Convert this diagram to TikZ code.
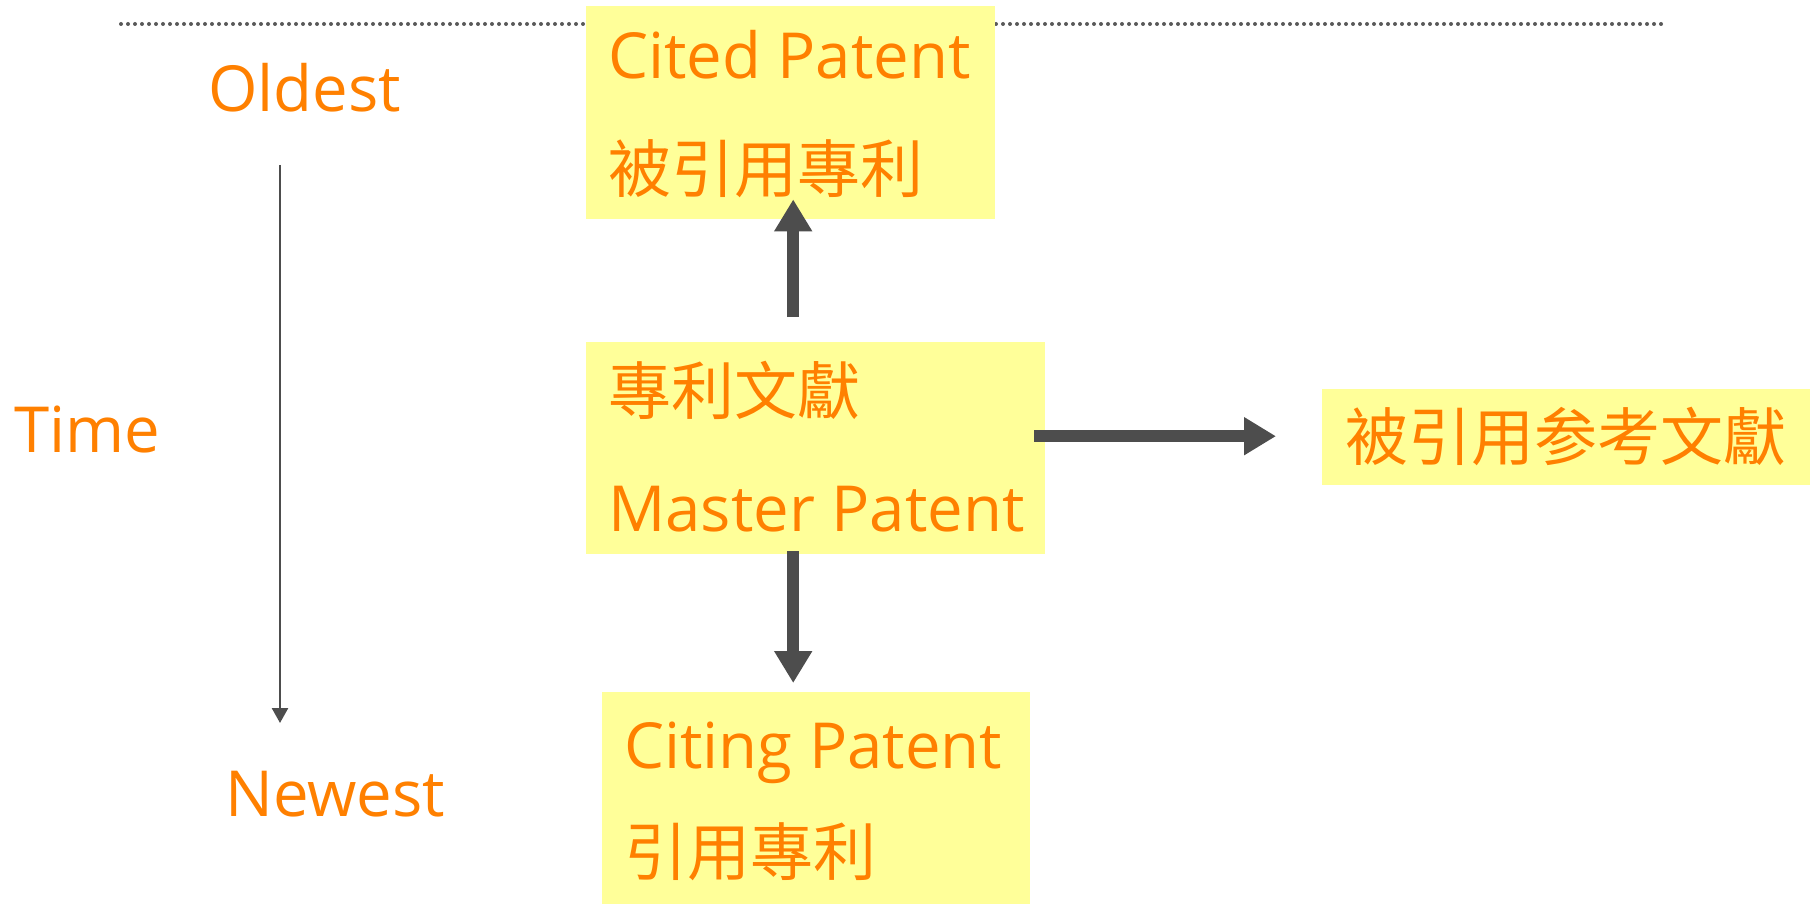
\documentclass[tikz,border=0pt]{standalone}
\usepackage{fontspec}
\setmainfont{Open Sans}
\newfontfamily\cjk{Noto Sans CJK TC}
\usetikzlibrary{arrows.meta,calc}
\definecolor{citeorange}{RGB}{255,128,0}
\definecolor{boxyellow}{RGB}{255,255,153}
\definecolor{arrowgray}{RGB}{77,77,77}
\tikzset{
  patent box/.style={fill=boxyellow, inner sep=0pt, anchor=north west},
  en text/.style={text=citeorange, inner sep=0pt, anchor=base west,
    font=\fontsize{63.5}{63.5}\selectfont},
  zh text/.style={text=citeorange, inner sep=0pt, anchor=west,
    font=\fontsize{63}{63}\selectfont\cjk},
  big arrow/.style={draw=arrowgray, line width=12pt,
    -{Triangle[length=32pt,width=36pt]}},
  time arrow/.style={draw=arrowgray, line width=2.5pt,
    -{Triangle[length=15pt,width=16pt]}},
  dotted rule/.style={draw=black!65, line width=4pt, line cap=round,
    dash pattern=on 0pt off 7pt},
}

\begin{document}
\begin{tikzpicture}[x=1pt,y=-1pt]
  \useasboundingbox (0,0) rectangle (1810,904);
  % rule along the top
  \coordinate (rule start) at (121,24);
  \coordinate (rule end) at (1662,24);
  \draw[dotted rule] (rule start) -- (rule end);
  % boxes
  \node[patent box, minimum width=409pt, minimum height=213pt] (cited) at (586,6) {};
  \node[patent box, minimum width=459pt, minimum height=212pt] (master) at (586,342) {};
  \node[patent box, minimum width=428pt, minimum height=212pt] (citing) at (602,692) {};
  \node[patent box, minimum width=488pt, minimum height=96pt] (refs) at (1322,389) {};
  \node[en text] (cited en) at (608,79) {Cited Patent};
  \node[zh text] (cited zh) at (608,169) {被引用專利};
  \node[zh text] (master zh) at (608,390) {專利文獻};
  \node[en text] (master en) at (608,531) {Master Patent};
  \node[en text] (citing en) at (624,768) {Citing Patent};
  \node[zh text] (citing zh) at (624,852) {引用專利};
  \node[zh text] (refs zh) at (1345,436) {被引用参考文獻};
  % time axis
  \node[en text] (oldest) at (208,112) {Oldest};
  \node[en text] (time) at (14,452) {Time};
  \node[en text] (newest) at (225,816) {Newest};
  \coordinate (time top) at (280,165);
  \coordinate (time end) at (280,723);
  \draw[time arrow] (time top) -- (time end);
  % citation arrows
  \draw[big arrow] ($(cited.south |- master.north)+(2.5,-25)$) -- ($(cited.south)+(2.5,-20)$);
  \draw[big arrow] ($(master.south)+(-22.5,-3)$) -- ($(citing.north)+(-23,-9)$);
  \draw[big arrow] ($(master.east)+(-11,-12)$) -- ($(refs.west)+(-46,-1)$);
\end{tikzpicture}
\end{document}
